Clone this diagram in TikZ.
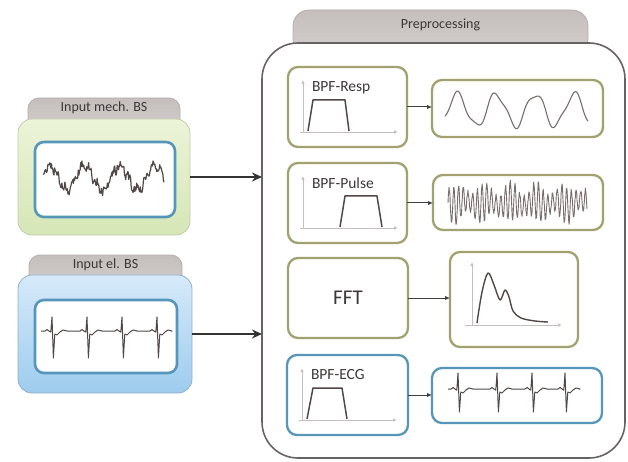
\documentclass[tikz,border=0pt]{standalone}
\usepackage{fontspec}
\setmainfont{Carlito}
\usetikzlibrary{arrows.meta,calc}

\definecolor{textgray}{RGB}{60,56,56}
\definecolor{tabtop}{RGB}{196,190,188}
\definecolor{tabbot}{RGB}{212,207,205}
\definecolor{tabedge}{RGB}{180,174,172}
\definecolor{greentop}{RGB}{236,244,216}
\definecolor{greenbot}{RGB}{214,230,182}
\definecolor{greenedge}{RGB}{196,204,176}
\definecolor{bluetop}{RGB}{214,234,249}
\definecolor{bluebot}{RGB}{158,204,238}
\definecolor{blueedge}{RGB}{146,176,198}
\definecolor{frameblue}{RGB}{86,150,186}
\definecolor{frameolive}{RGB}{162,162,112}
\definecolor{mainedge}{RGB}{104,98,98}
\definecolor{axisgray}{RGB}{196,192,192}
\definecolor{sigdark}{RGB}{82,72,72}
\definecolor{siggray}{RGB}{120,110,110}

% ECG trace: x start, x end, baseline, beat positions, R height, S depth
\newcommand\ecgtrace[6]{%
  \draw[sig] (#1,#3)
    \foreach \b in {#4}{
      -- ({\b-7},#3) -- ({\b-5},{#3-1.5}) -- ({\b-3},#3)
      -- ({\b-1.2},{#3+1.2}) -- (\b,{#3-#5}) -- ({\b+1.4},{#3+#6})
      -- ({\b+2.8},{#3+3}) -- ({\b+5},{#3+4}) -- ({\b+8},{#3+1})
      -- ({\b+11},{#3-1}) -- ({\b+15},#3)}
    -- (#2,#3);}

% band-pass response sketch inside a filter box (origin = box north west)
\newcommand\filtergraph[4]{%
  \draw[axis] (15,66) -- (15,13);
  \draw[axis] (12,65) -- (110,65);
  \draw[trap] (#1,64) -- (#2,33) -- (#3,33) -- (#4,64);}

\begin{document}
\begin{tikzpicture}[x=1pt,y=-1pt,
  every node/.style={inner sep=0pt, outer sep=0pt},
  tabshape/.style={draw=tabedge, line width=0.8pt, top color=tabtop,
    bottom color=tabbot, rounded corners=11pt, anchor=north west},
  tablabel/.style={text=textgray, font=\fontsize{14}{16}\selectfont},
  greencard/.style={draw=greenedge, line width=0.8pt, top color=greentop,
    bottom color=greenbot, rounded corners=14pt, anchor=north west},
  bluecard/.style={draw=blueedge, line width=0.8pt, top color=bluetop,
    bottom color=bluebot, rounded corners=14pt, anchor=north west},
  screen/.style={draw=frameblue, line width=2.6pt, fill=white,
    rounded corners=9pt, anchor=north west},
  mainbox/.style={draw=mainedge, line width=1.6pt, fill=white,
    rounded corners=36pt, anchor=north west},
  olivebox/.style={draw=frameolive, line width=2.3pt, fill=white,
    rounded corners=10pt, anchor=north west},
  bluebox/.style={draw=frameblue, line width=2.3pt, fill=white,
    rounded corners=10pt, anchor=north west},
  boxlabel/.style={text=textgray, anchor=west,
    font=\fontsize{15.5}{17}\selectfont},
  axis/.style={draw=axisgray, line width=0.9pt, -{Latex[length=4pt,width=3.5pt]}},
  trap/.style={draw=sigdark, line width=1.5pt, line join=round},
  sig/.style={draw=sigdark, line width=1pt, line join=round},
  thinsig/.style={draw=siggray, line width=0.9pt, line join=round},
  bigarrow/.style={draw=black!80, line width=2.2pt,
    -{Stealth[length=10pt,width=9pt]}},
  smallarrow/.style={draw=black!75, line width=1pt,
    -{Latex[length=5pt,width=4.5pt]}}
]
\useasboundingbox (0,0) rectangle (628,462);

% ---- mechanical input card ----
\node[tabshape, minimum width=152pt, minimum height=32pt] (mtab) at (28,98) {};
\node[tablabel] (mlabel) at ($(mtab.north)+(0,10)$) {Input mech. BS};
\node[greencard, minimum width=172pt, minimum height=116pt] (mcard) at (18,119) {};
\node[screen, minimum width=140pt, minimum height=75pt] (mscreen) at (35,142) {};
\pgfmathsetseed{11}
\draw[sig, line width=1.2pt, domain=43:164, samples=200, variable=\t]
  plot (\t, {178 - 12*sin((\t-41)*10.2857) + 3*sin((\t-43)*45)
             + 1.5*sin((\t-43)*110) + 3.6*rand});

% ---- electrical input card ----
\node[tabshape, minimum width=153pt, minimum height=32pt] (etab) at (29,255) {};
\node[tablabel] (elabel) at ($(etab.north)+(0,10)$) {Input el. BS};
\node[bluecard, minimum width=174pt, minimum height=118pt] (ecard) at (18,275) {};
\node[screen, minimum width=142pt, minimum height=73pt] (escreen) at (35,300) {};
\ecgtrace{41}{171}{331}{52,87,122,157}{14}{27}

% ---- preprocessing frame ----
\node[tabshape, rounded corners=16pt, minimum width=295pt, minimum height=45pt] (ptab) at (293,10) {};
\node[tablabel] (plabel) at ($(ptab.north)+(0,15)$) {Preprocessing};
\node[mainbox, minimum width=363pt, minimum height=415pt] (main) at (262,43) {};

\draw[bigarrow] (mcard.east) -- (mcard.east -| main.west);
\draw[bigarrow] (ecard.east) -- (ecard.east -| main.west);

% respiration band
\node[olivebox, minimum width=119pt, minimum height=80pt] (resp) at (288,67) {};
\begin{scope}[shift={(resp.north west)}]
  \filtergraph{20}{25}{57}{61}
  \node[boxlabel] (resplabel) at (24,21) {BPF-Resp};
\end{scope}
\node[olivebox, minimum width=171pt, minimum height=57pt] (respout) at (432,80) {};
\draw[thinsig, line width=1.1pt, domain=445:588, samples=150, variable=\t]
  plot (\t, {110 - 16*sin((\t-447.5)*9.2308) + 3*sin((\t-445)*21.18)});
\draw[smallarrow] (resp.east) -- (resp.east -| respout.west);

% pulse band
\node[olivebox, minimum width=119pt, minimum height=80pt] (pulse) at (288,163) {};
\begin{scope}[shift={(pulse.north west)}]
  \filtergraph{52}{57}{89}{94}
  \node[boxlabel] (pulselabel) at (24,20) {BPF-Pulse};
\end{scope}
\node[olivebox, minimum width=170pt, minimum height=55pt] (pulseout) at (433,175) {};
\pgfmathsetseed{5}
\draw[thinsig, domain=448:587, samples=420, variable=\t]
  plot (\t, {203 - (14+5*sin((\t-448)*13))*sin((\t-448)*76.6)
             + 3*sin((\t-448)*15.65) + 2*rand});
\draw[smallarrow] (pulse.east) -- (pulse.east -| pulseout.west);

% spectrum
\node[olivebox, minimum width=120pt, minimum height=80pt] (fft) at (288,258) {};
\node[text=textgray, font=\fontsize{21}{24}\selectfont] (fftlabel) at (fft.center) {FFT};
\node[olivebox, minimum width=128pt, minimum height=95pt] (fftout) at (450,252) {};
\coordinate (spo) at (472,325);
\draw[axis] ($(spo)+(0,1)$) -- ($(spo)+(0,-63)$);
\draw[axis] ($(spo)+(-7,0)$) -- ($(spo)+(90,0)$);
\draw[sig, line width=1.4pt] plot[smooth, tension=0.55] coordinates
  {(477,323) (482,292) (488,273) (494,285) (500,300) (505,290) (509,297)
   (513,311) (521,318) (535,321) (548,322)};
\draw[smallarrow] (fft.east) -- (fft.east -| fftout.west);

% ECG band
\node[bluebox, minimum width=121pt, minimum height=80pt] (ecg) at (287,355) {};
\begin{scope}[shift={(ecg.north west)}]
  \filtergraph{20}{26}{55}{60}
  \node[boxlabel] (ecglabel) at (24,20) {BPF-ECG};
\end{scope}
\node[bluebox, minimum width=170pt, minimum height=55pt] (ecgout) at (432,368) {};
\ecgtrace{448}{579}{389}{458,497,532,565}{16}{23}
\draw[smallarrow] (ecg.east) -- (ecg.east -| ecgout.west);
\end{tikzpicture}
\end{document}
